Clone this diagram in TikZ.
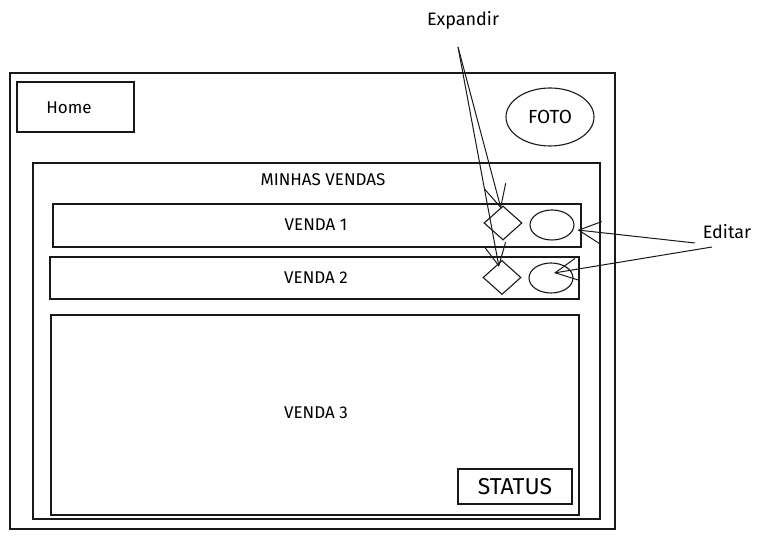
\documentclass[tikz,border=0pt]{standalone}
\usepackage{fontspec}
\setmainfont{Fira Sans}
\usetikzlibrary{shapes.geometric,arrows.meta}
\tikzset{
  sk/.style={draw=black!90, line width=1.1pt},
  box/.style={sk, rectangle, inner sep=0pt},
  lbl/.style={font=\fontsize{17}{19}\selectfont, inner sep=1pt},
  dia/.style={sk, diamond, minimum width=38pt, minimum height=34pt, inner sep=0pt},
  ell/.style={sk, ellipse, minimum width=44pt, minimum height=30pt, inner sep=0pt},
  arr/.style={draw=black!90, line width=1pt, -{Straight Barb[length=22pt,width=22pt,line width=1pt]}},
}
\begin{document}
\begin{tikzpicture}[x=1pt,y=-1pt]
\useasboundingbox (0,0) rectangle (764,540);
% outer frame
\draw[sk] (10,73) rectangle (615,529);
% home
\node[box, minimum width=117pt, minimum height=50pt] (home) at (75.5,107) {};
\node[font=\fontsize{17}{19}\selectfont] (hometxt) at (69,108) {Home};
% foto
\node[sk, ellipse, minimum width=88pt, minimum height=58pt, inner sep=0pt, font=\fontsize{19}{21}\selectfont] (foto) at (550,117) {FOTO};
% container
\draw[sk] (33,163) rectangle (600,519);
\node[lbl] (minhas) at (323,180) {MINHAS VENDAS};
% venda 1
\node[box, minimum width=528pt, minimum height=43pt] (v1) at (317,225.5) {};
\node[lbl] (v1t) at (316,225) {VENDA 1};
\node[dia] (d1) at (503,223) {};
\node[ell] (e1) at (552,225) {};
% venda 2
\node[box, minimum width=529pt, minimum height=42pt] (v2) at (314.5,278) {};
\node[lbl] (v2t) at (316,278) {VENDA 2};
\node[dia] (d2) at (502,277.5) {};
\node[ell] (e2) at (551,278) {};
% venda 3
\node[box, minimum width=528pt, minimum height=200pt] (v3) at (315,415) {};
\node[lbl] (v3t) at (316,413) {VENDA 3};
\node[box, minimum width=114pt, minimum height=35pt, font=\fontsize{23}{25}\selectfont] (status) at (515,486.5) {STATUS};
% labels
\node[font=\fontsize{18}{20}\selectfont] (exp) at (463,20) {Expandir};
\node[font=\fontsize{18}{20}\selectfont] (edit) at (727,232) {Editar};
\coordinate (expsrc) at (458,47);
\coordinate (ed1) at (695,243);
\coordinate (ed2) at (712,247);
\coordinate (e2pt) at (554,273);
% arrows
\draw[arr] (expsrc) -- ([xshift=-2pt,yshift=-3pt]d1.north);
\draw[arr] (expsrc) -- ([xshift=-3pt,yshift=-7pt]d2.north);
\draw[arr] (ed1) -- ([xshift=3pt,yshift=-5pt]e1.east);
\draw[arr] (ed2) -- (e2pt);
\end{tikzpicture}
\end{document}
